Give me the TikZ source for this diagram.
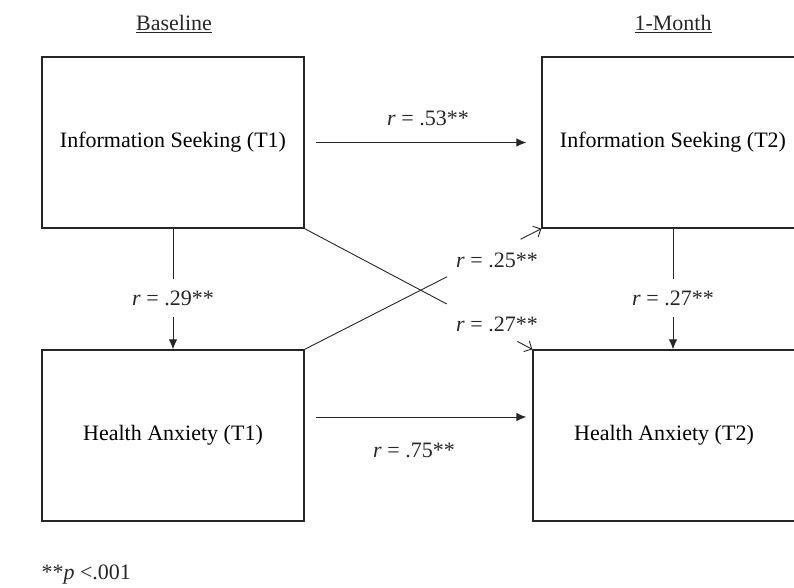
\documentclass[tikz,border=0pt]{standalone}
\usepackage{fontspec}
\setmainfont{Liberation Serif}
\usetikzlibrary{arrows.meta,calc,positioning}
\colorlet{background}{white}
\colorlet{penColor}{black!85}
\tikzset{
	>={Latex[length=10pt,width=8.5pt]},
	varBox/.style={draw=penColor, line width=1.3pt, minimum width=262pt, minimum height=171pt, inner sep=0pt},
	pathLine/.style={penColor, line width=0.9pt},
	openArrow/.style={pathLine, -{Straight Barb[length=6pt,width=12pt]}},
	rLabel/.style={penColor, inner sep=2pt},
	gapLabel/.style={penColor, fill=background, inner xsep=4pt, inner ysep=12pt}
}

\begin{document}
\begin{tikzpicture}[x=1pt, y=-1pt, font=\fontsize{22}{26}\selectfont]
				\useasboundingbox (0,0) rectangle (794,587);
				\node[varBox] (is1) at (173,142.5) {Information Seeking (T1)};
				\node[varBox] (ha1) at (173,435.5) {Health Anxiety (T1)};
				\node[varBox] (is2) at (673,142.5) {Information Seeking (T2)};
				\node[varBox] (ha2) at (664,435.5) {Health Anxiety (T2)};
				\node[penColor] (base) at (174,24) {\underline{Baseline}};
				\node[penColor] (month) at (673,24) {\underline{1-Month}};
				% stability paths
				\draw[pathLine,->] ([xshift=11pt]is1.east) -- ([xshift=-15pt]is2.west);
				\draw[pathLine,->] ([xshift=11pt]ha1.east |- 0,417) -- ([xshift=-6pt]ha2.west |- 0,417);
				\node[rLabel] (r53) at (428,118) {\textit{r} = .53**};
				\node[rLabel] (r75) at (414,450) {\textit{r} = .75**};
				% within time
				\draw[pathLine,->] (is1.south) -- (ha1.north)
					node[gapLabel, pos=0.575] (r29) {\textit{r} = .29**};
				\draw[pathLine,->] (is2.south) -- (is2.south |- ha2.north)
					node[gapLabel, pos=0.575] (r27a) {\textit{r} = .27**};
				% cross paths
				\draw[pathLine] (is1.south east) -- ($(is1.south east)!0.624!(ha2.north west)$);
				\draw[openArrow] ($(is1.south east)!0.934!(ha2.north west)$) -- (ha2.north west);
				\draw[pathLine] (ha1.north east) -- ($(ha1.north east)!0.601!(is2.south west)$);
				\draw[openArrow] ($(ha1.north east)!0.912!(is2.south west)$) -- (is2.south west);
				\node[rLabel] (r25) at (497,260) {\textit{r} = .25**};
				\node[rLabel] (r27b) at (497,324) {\textit{r} = .27**};
				\node[penColor, anchor=west] (note) at (38,575) {**\textit{p} <.001};
\end{tikzpicture}
\end{document}
